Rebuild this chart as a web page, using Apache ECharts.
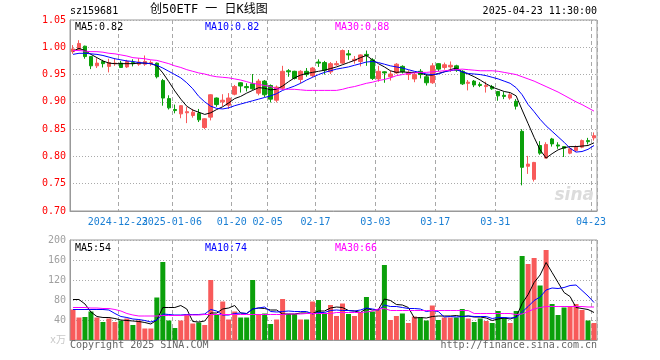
<!DOCTYPE html>
<html><head><meta charset="utf-8">
<script src="https://cdn.jsdelivr.net/npm/echarts@6/dist/echarts.min.js"></script>
<style>html,body{margin:0;padding:0;background:#fff}#c{width:660px;height:360px}</style>
</head><body><div id="c"></div><script>
const dates = [
'2024-12-11','2024-12-12','2024-12-13','2024-12-16','2024-12-17','2024-12-18','2024-12-19','2024-12-20','2024-12-23','2024-12-24','2024-12-25','2024-12-26','2024-12-27','2024-12-30','2024-12-31',
'2025-01-02','2025-01-03','2025-01-06','2025-01-07','2025-01-08','2025-01-09','2025-01-10','2025-01-13','2025-01-14','2025-01-15','2025-01-16','2025-01-17','2025-01-20','2025-01-21','2025-01-22','2025-01-23','2025-01-24','2025-01-27',
'2025-02-05','2025-02-06','2025-02-07','2025-02-10','2025-02-11','2025-02-12','2025-02-13','2025-02-14','2025-02-17','2025-02-18','2025-02-19','2025-02-20','2025-02-21','2025-02-24','2025-02-25','2025-02-26','2025-02-27','2025-02-28',
'2025-03-03','2025-03-04','2025-03-05','2025-03-06','2025-03-07','2025-03-10','2025-03-11','2025-03-12','2025-03-13','2025-03-14','2025-03-17','2025-03-18','2025-03-19','2025-03-20','2025-03-21','2025-03-24','2025-03-25','2025-03-26','2025-03-27','2025-03-28','2025-03-31',
'2025-04-01','2025-04-02','2025-04-03','2025-04-07','2025-04-08','2025-04-09','2025-04-10','2025-04-11','2025-04-14','2025-04-15','2025-04-16','2025-04-17','2025-04-18','2025-04-21','2025-04-22','2025-04-23'];
const tickDates = ['2024-12-23','2025-01-06','2025-01-20','2025-02-05','2025-02-17','2025-03-03','2025-03-17','2025-03-31','2025-04-23'];
const tickLabels = ['2024-12-23','2025-01-06','01-20','02-05','02-17','03-03','03-17','03-31','04-23'];
const open = [
0.992,0.996,1.002,0.983,0.966,0.974,0.965,0.970,0.971,0.964,
0.972,0.969,0.969,0.970,0.971,0.939,0.906,0.886,0.878,0.880,
0.875,0.879,0.853,0.872,0.907,0.900,0.894,0.914,0.935,0.928,
0.933,0.916,0.938,0.930,0.903,0.925,0.957,0.956,0.941,0.956,
0.948,0.973,0.972,0.955,0.968,0.971,0.988,0.976,0.974,0.987,
0.977,0.942,0.955,0.946,0.953,0.965,0.950,0.942,0.956,0.946,
0.935,0.970,0.963,0.964,0.966,0.956,0.934,0.938,0.932,0.928,
0.928,0.919,0.912,0.907,0.901,0.846,0.782,0.758,0.820,0.797,
0.832,0.821,0.818,0.806,0.811,0.817,0.829,0.834];
const close = [
0.997,1.007,0.983,0.966,0.971,0.970,0.972,0.971,0.963,0.974,
0.970,0.973,0.974,0.972,0.946,0.907,0.889,0.884,0.893,0.882,
0.881,0.867,0.869,0.913,0.895,0.903,0.907,0.928,0.929,0.926,
0.924,0.938,0.913,0.905,0.927,0.956,0.955,0.943,0.956,0.950,
0.962,0.971,0.958,0.970,0.970,0.994,0.986,0.978,0.986,0.985,
0.943,0.956,0.953,0.951,0.969,0.955,0.954,0.950,0.950,0.935,
0.966,0.960,0.968,0.967,0.958,0.933,0.936,0.931,0.930,0.930,
0.924,0.911,0.910,0.913,0.892,0.780,0.786,0.789,0.806,0.822,
0.823,0.819,0.815,0.814,0.817,0.829,0.827,0.838];
const low = [
0.988,0.994,0.979,0.960,0.962,0.963,0.954,0.966,0.962,0.962,
0.965,0.966,0.966,0.966,0.943,0.893,0.886,0.879,0.870,0.861,
0.871,0.863,0.850,0.866,0.891,0.892,0.887,0.912,0.917,0.919,
0.922,0.912,0.909,0.899,0.899,0.922,0.946,0.941,0.934,0.946,
0.945,0.964,0.950,0.951,0.966,0.969,0.977,0.970,0.965,0.966,
0.940,0.937,0.935,0.939,0.951,0.952,0.940,0.936,0.943,0.930,
0.933,0.956,0.959,0.955,0.955,0.931,0.921,0.927,0.927,0.917,
0.922,0.902,0.905,0.904,0.886,0.747,0.768,0.754,0.803,0.796,
0.818,0.814,0.799,0.804,0.808,0.815,0.822,0.829];
const high = [
1.004,1.013,1.003,0.984,0.980,0.977,0.979,0.980,0.975,0.977,
0.978,0.980,0.985,0.976,0.972,0.942,0.912,0.895,0.894,0.891,
0.887,0.887,0.870,0.914,0.908,0.914,0.916,0.931,0.936,0.934,
0.951,0.942,0.940,0.932,0.930,0.966,0.960,0.957,0.958,0.962,
0.964,0.978,0.975,0.973,0.975,0.996,0.995,0.984,0.987,0.994,
0.980,0.966,0.956,0.957,0.971,0.967,0.958,0.953,0.960,0.951,
0.971,0.971,0.972,0.974,0.968,0.958,0.940,0.940,0.936,0.937,
0.931,0.920,0.918,0.916,0.905,0.850,0.801,0.790,0.828,0.826,
0.834,0.826,0.819,0.816,0.820,0.831,0.834,0.844];
const ma5 = [
0.993,0.998,0.994,0.987,0.981,0.975,0.971,0.970,0.970,0.970,
0.970,0.971,0.971,0.970,0.966,0.953,0.937,0.920,0.905,0.892,
0.885,0.881,0.877,0.880,0.886,0.891,0.898,0.906,0.910,0.916,
0.921,0.926,0.925,0.922,0.923,0.929,0.937,0.944,0.949,0.952,
0.954,0.956,0.958,0.961,0.964,0.968,0.972,0.976,0.981,0.985,
0.977,0.970,0.964,0.957,0.954,0.955,0.954,0.954,0.953,0.949,
0.949,0.952,0.955,0.959,0.962,0.955,0.951,0.946,0.940,0.933,
0.927,0.923,0.919,0.917,0.911,0.885,0.860,0.835,0.812,0.797,
0.805,0.812,0.816,0.818,0.818,0.819,0.820,0.825];
const ma10 = [
0.987,0.989,0.989,0.988,0.987,0.985,0.982,0.979,0.977,0.975,
0.974,0.972,0.971,0.970,0.967,0.962,0.956,0.950,0.944,0.935,
0.924,0.910,0.900,0.892,0.888,0.887,0.889,0.893,0.896,0.899,
0.902,0.905,0.908,0.911,0.915,0.921,0.925,0.929,0.934,0.940,
0.945,0.950,0.954,0.957,0.960,0.962,0.964,0.967,0.970,0.973,
0.974,0.972,0.969,0.966,0.964,0.962,0.959,0.956,0.954,0.951,
0.950,0.951,0.955,0.957,0.959,0.955,0.952,0.951,0.950,0.948,
0.945,0.942,0.938,0.934,0.926,0.913,0.895,0.882,0.868,0.856,
0.846,0.836,0.826,0.815,0.808,0.809,0.813,0.820];
const ma30 = [
0.994,0.994,0.993,0.992,0.992,0.991,0.989,0.988,0.986,0.984,
0.981,0.980,0.979,0.977,0.976,0.973,0.970,0.966,0.963,0.959,
0.956,0.953,0.951,0.948,0.946,0.945,0.944,0.942,0.940,0.937,
0.934,0.932,0.930,0.928,0.924,0.923,0.923,0.923,0.922,0.921,
0.921,0.921,0.921,0.921,0.921,0.923,0.926,0.928,0.931,0.934,
0.936,0.939,0.941,0.944,0.948,0.950,0.952,0.953,0.954,0.954,
0.955,0.956,0.957,0.958,0.959,0.960,0.959,0.958,0.957,0.957,
0.957,0.956,0.954,0.952,0.950,0.946,0.942,0.938,0.933,0.928,
0.923,0.918,0.912,0.906,0.900,0.895,0.889,0.883];
const volume = [
61,45,46,57,45,36,43,36,39,43,
30,39,23,23,85,156,39,24,39,51,
33,35,30,120,50,77,41,57,45,45,
120,52,53,32,41,82,52,52,41,41,
77,80,53,70,48,73,52,48,55,86,
57,61,150,40,48,53,34,47,45,39,
69,40,45,45,45,62,43,36,43,38,
34,58,45,34,58,168,152,164,109,180,
72,50,65,68,72,60,39,34];
const volMa5 = [
81,81,72,56,47,45,45,43,40,39,
38,37,35,32,40,65,65,65,69,62,
37,36,38,54,54,62,64,69,54,53,
62,64,63,60,60,52,52,52,54,54,
53,58,58,64,66,65,59,58,55,63,
60,61,82,79,71,70,65,44,45,44,
47,48,48,48,49,47,48,46,46,44,
39,42,44,42,46,73,91,115,130,155,
135,115,95,87,65,63,61,55];
const volMa10 = [
61,61,61,61,61,61,60,53,47,45,
42,41,39,36,40,52,51,50,50,51,
51,51,52,61,58,50,50,53,54,53,
62,64,66,57,56,57,58,57,57,57,
52,55,55,59,60,59,59,58,60,64,
62,60,70,67,67,65,63,63,62,57,
59,57,46,47,46,47,48,47,47,47,
43,45,45,44,45,56,67,79,86,100,
104,103,105,109,110,99,88,75];
const volMa30 = [
65,65,65,64,64,63,63,61,58,53,
50,48,48,48,48,49,49,49,49,50,
50,50,51,51,51,51,51,51,51,51,
51,51,51,51,51,51,52,52,52,53,
53,53,53,53,55,55,55,55,55,56,
58,62,63,59,59,59,59,59,59,59,
59,59,59,59,59,59,59,53,53,53,
53,53,53,53,51,52,57,62,65,67,
67,67,67,67,67,67,66,66];
const priceLegend = ['MA5:0.82','MA10:0.82','MA30:0.88'];
const volLegend = ['MA5:54','MA10:74','MA30:66'];

const FONT = '"DejaVu Sans Mono","Liberation Mono","Noto Sans CJK SC",monospace';
const UP = '#f85a5a', DOWN = '#0ba00b';
const C5 = '#000000', C10 = '#0000ff', C30 = '#ff00ff';
const candle = dates.map((d, i) => [open[i], close[i], low[i], high[i]]);
const volData = volume.map((v, i) => ({ value: v, itemStyle: { color: close[i] >= open[i] ? UP : DOWN } }));
const isTick = (idx, val) => tickDates.indexOf(val) >= 0;
// labels split over two axes so the overlapping pair (as in the original) are both drawn
const labelSetA = tickDates.filter((d, k) => k !== 1);
const labelSetB = [tickDates[1]];
const labelFmt = v => tickLabels[tickDates.indexOf(v)] || '';

function labelCfg(set) {
  return { interval: (idx, val) => set.indexOf(val) >= 0, hideOverlap: false,
    formatter: labelFmt, color: '#1a7fd4', fontFamily: FONT, fontSize: 10, margin: 6, padding: [0, 6, 0, 0] };
}
const xAxes = [
  { type: 'category', gridIndex: 0, position: 'bottom', offset: 0, data: dates, boundaryGap: true,
    axisLine: { show: true, lineStyle: { color: '#999', width: 1 } }, axisTick: { show: false },
    axisLabel: labelCfg(labelSetA),
    splitLine: { show: true, interval: isTick, lineStyle: { color: '#a8a8a8', width: 1, type: [4, 3] } } },
  { type: 'category', gridIndex: 0, position: 'bottom', offset: 0, data: dates, boundaryGap: true,
    axisLine: { show: false }, axisTick: { show: false },
    axisLabel: labelCfg(labelSetB), splitLine: { show: false } },
  { type: 'category', gridIndex: 1, position: 'bottom', data: dates, boundaryGap: true,
    axisLine: { show: true, lineStyle: { color: '#999', width: 1 } }, axisTick: { show: false },
    axisLabel: { show: false },
    splitLine: { show: true, interval: isTick, lineStyle: { color: '#a8a8a8', width: 1, type: [4, 3] } } }
];
function lineS(data, color, xi, yi) {
  return { type: 'line', xAxisIndex: xi, yAxisIndex: yi, data: data, symbol: 'none', showSymbol: false,
    lineStyle: { color: color, width: 1 }, itemStyle: { color: color }, z: 3, silent: true };
}
function txt(left, top, text, color, size, extra) {
  return Object.assign({ type: 'text', left: left, top: top, z: 100, silent: true,
    style: { text: text, fill: color, font: (size || 10) + 'px ' + FONT } }, extra || {});
}

const chart = echarts.init(document.getElementById('c'));
chart.setOption({
  animation: false,
  backgroundColor: '#fff',
  grid: [
    { left: 70, top: 20, width: 527, height: 191, show: true, borderColor: '#999', borderWidth: 1 },
    { left: 70, top: 240, width: 527, height: 100, show: true, borderColor: '#999', borderWidth: 1 }
  ],
  xAxis: xAxes,
  yAxis: [
    { type: 'value', gridIndex: 0, min: 0.70, max: 1.05, interval: 0.05,
      axisLine: { show: true, lineStyle: { color: '#999' } }, axisTick: { show: false },
      axisLabel: { color: '#ff0000', fontFamily: FONT, fontSize: 10, margin: 4, formatter: v => v.toFixed(2) },
      splitLine: { show: true, lineStyle: { color: '#aaa', type: [1, 2] } } },
    { type: 'value', gridIndex: 1, min: 0, max: 200, interval: 40,
      axisLine: { show: true, lineStyle: { color: '#999' } }, axisTick: { show: false },
      axisLabel: { color: '#a0a0a0', fontFamily: FONT, fontSize: 10, margin: 4,
        formatter: v => v === 0 ? '{u|x万}' : String(v),
        rich: { u: { color: '#c8c8c8', fontFamily: FONT, fontSize: 10 } } },
      splitLine: { show: true, lineStyle: { color: '#aaa', type: [1, 2] } } }
  ],
  graphic: [
    txt(70, 6, 'sz159681', '#000', 10),
    txt(150, 4, '创50ETF 一 日K线图', '#000', 12),
    txt(null, 6, '2025-04-23 11:30:00', '#000', 10, { right: 63 }),
    txt(75, 22, priceLegend[0], C5, 10),
    txt(205, 22, priceLegend[1], C10, 10),
    txt(335, 22, priceLegend[2], C30, 10),
    txt(75, 243, volLegend[0], C5, 10),
    txt(205, 243, volLegend[1], C10, 10),
    txt(335, 243, volLegend[2], C30, 10),
    txt(70, 340, 'Copyright 2025 SINA.COM', '#666', 10),
    txt(null, 340, 'http://finance.sina.com.cn', '#666', 10, { right: 63 }),
    { type: 'text', right: 66, top: 187, z: 1, silent: true,
      style: { text: 'sina', fill: '#dcdcdc', font: 'italic bold 17px "DejaVu Sans",sans-serif' } }
  ],
  series: [
    { type: 'candlestick', xAxisIndex: 0, yAxisIndex: 0, data: candle, barWidth: 4,
      itemStyle: { color: UP, color0: DOWN, borderColor: UP, borderColor0: DOWN, borderWidth: 1 } },
    lineS(ma5, C5, 0, 0), lineS(ma10, C10, 0, 0), lineS(ma30, C30, 0, 0),
    { type: 'bar', xAxisIndex: 2, yAxisIndex: 1, data: volData, barWidth: 5 },
    lineS(volMa5, C5, 2, 1), lineS(volMa10, C10, 2, 1), lineS(volMa30, C30, 2, 1)
  ]
});
</script></body></html>
